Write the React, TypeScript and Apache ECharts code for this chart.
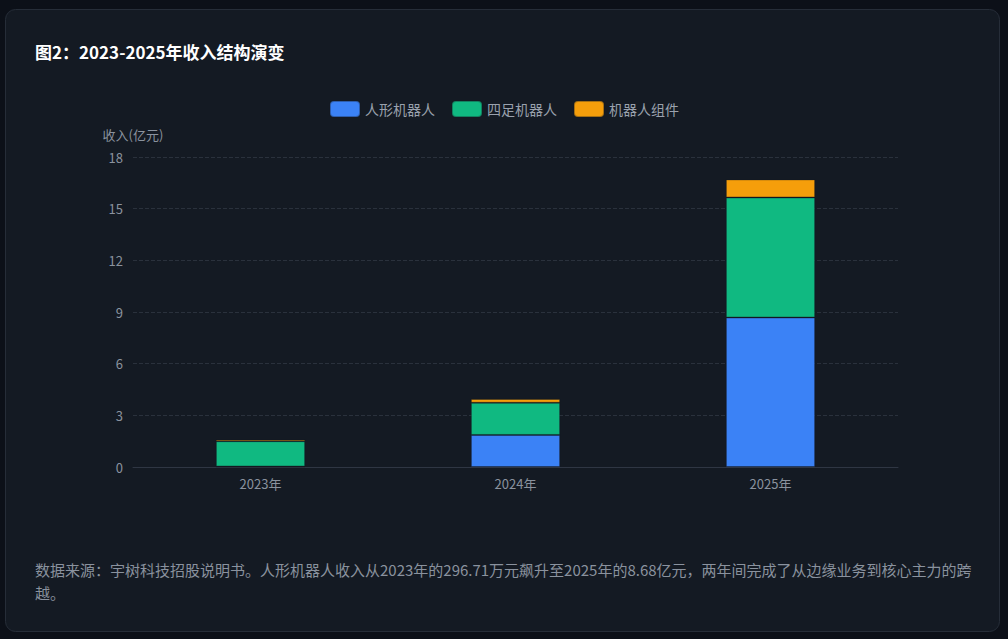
import React, { useEffect, useRef } from "react";
import * as echarts from "echarts";

const categories = ["2023年", "2024年", "2025年"];
const humanoid = [0.03, 1.86, 8.68];
const quadruped = [1.47, 1.87, 6.97];
const components = [0.1, 0.22, 1.05];
const seriesNames = ["人形机器人", "四足机器人", "机器人组件"];
const colors = ["#3b82f6", "#10b981", "#f59e0b"];
const titleText = "图2：2023-2025年收入结构演变";
const footerLines = [
  "数据来源：宇树科技招股说明书。人形机器人收入从2023年的296.71万元飙升至2025年的8.68亿元，两年间完成了从边缘业务到核心主力的跨",
  "越。",
];

const FONT = "'Noto Sans CJK SC', 'Noto Sans', sans-serif";

export default function App() {
  const ref = useRef<HTMLDivElement>(null);
  useEffect(() => {
    document.body.style.margin = "0";
    const chart = echarts.init(ref.current!, null, { renderer: "svg" });
    const dataSets = [humanoid, quadruped, components];
    chart.setOption({
      animation: false,
      backgroundColor: "#0c1018",
      textStyle: { fontFamily: FONT },
      graphic: [
        {
          type: "rect",
          z: -10,
          silent: true,
          shape: { x: 5.5, y: 9.5, width: 994, height: 622, r: 10 },
          style: { fill: "#141a23", stroke: "#262d38", lineWidth: 1 },
        },
        {
          type: "text",
          left: 35,
          top: 43,
          style: {
            text: titleText,
            fill: "#ffffff",
            font: `bold 17px ${FONT}`,
          },
        },
        ...footerLines.map((t, i) => ({
          type: "text",
          left: 35,
          top: 562 + i * 23,
          style: { text: t, fill: "#8a929e", font: `15px ${FONT}` },
        })),
      ],
      legend: {
        top: 95,
        left: "center",
        itemWidth: 30,
        itemHeight: 16,
        itemGap: 16,
        icon: "roundRect",
        textStyle: { color: "#9aa1ad", fontSize: 14, fontFamily: FONT },
        data: seriesNames,
      },
      grid: { left: 133, right: 110, top: 157, bottom: 172 },
      xAxis: {
        type: "category",
        data: categories,
        axisLine: { lineStyle: { color: "#2f3643" } },
        axisTick: { show: false },
        axisLabel: { color: "#8a929e", fontSize: 13, margin: 10 },
      },
      yAxis: {
        type: "value",
        min: 0,
        max: 18,
        interval: 3,
        name: "收入(亿元)",
        nameGap: 16,
        nameTextStyle: { color: "#8a929e", fontSize: 13 },
        axisLine: { show: false },
        axisTick: { show: false },
        axisLabel: { color: "#8a929e", fontSize: 13, margin: 10 },
        splitLine: { lineStyle: { color: "#2a313c", type: "dashed" } },
      },
      series: seriesNames.map((n, i) => ({
        name: n,
        type: "bar",
        stack: "total",
        barWidth: "35%",
        data: dataSets[i],
        itemStyle: {
          color: colors[i],
          borderColor: "rgba(20,26,35,0.35)",
          borderWidth: 1,
        },
      })),
    });
    return () => chart.dispose();
  }, []);
  return (
    <div
      ref={ref}
      style={{ position: "fixed", left: 0, top: 0, width: 1008, height: 639 }}
    />
  );
}
